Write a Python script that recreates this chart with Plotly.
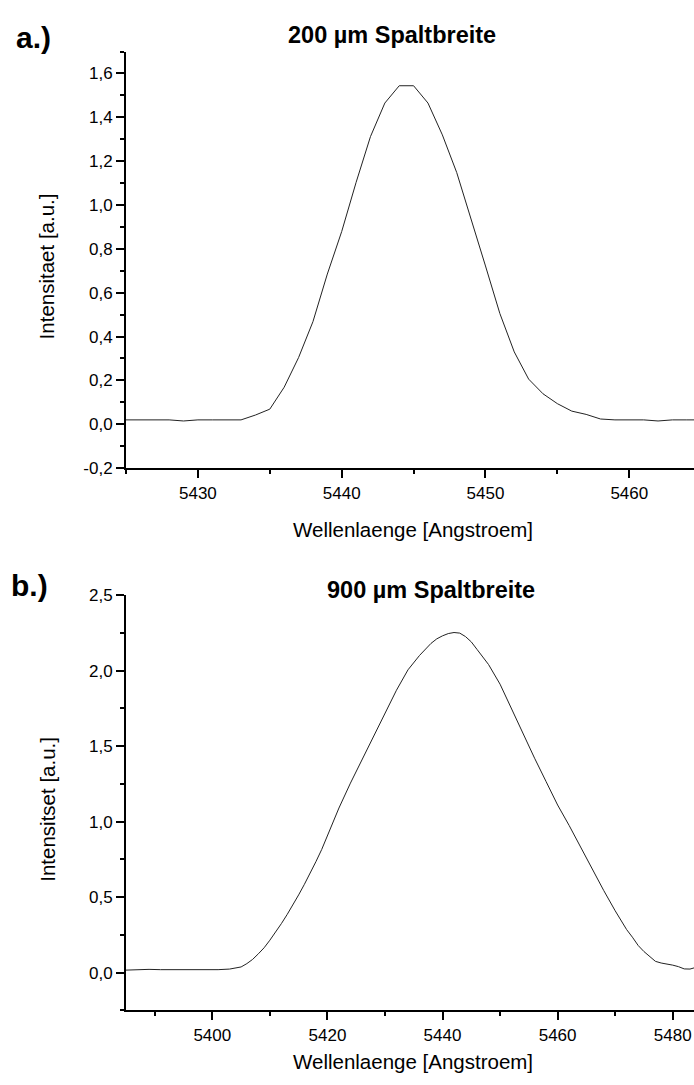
import plotly.graph_objects as go

# ---------------- data ----------------
# panel a: 200 um slit width
X_A = [5425, 5426, 5427, 5428, 5429, 5430, 5431, 5432, 5433, 5434, 5435, 5436, 5437,
       5438, 5439, 5440, 5441, 5442, 5443, 5444, 5445, 5446, 5447, 5448, 5449, 5450,
       5451, 5452, 5453, 5454, 5455, 5456, 5457, 5458, 5459, 5460, 5461, 5462, 5463,
       5464, 5465]
Y_A = [0.020, 0.020, 0.020, 0.020, 0.015, 0.020, 0.020, 0.020, 0.020, 0.042, 0.069,
       0.169, 0.304, 0.468, 0.685, 0.879, 1.103, 1.312, 1.465, 1.544, 1.544, 1.465,
       1.320, 1.148, 0.939, 0.722, 0.505, 0.330, 0.206, 0.139, 0.094, 0.060, 0.045,
       0.024, 0.020, 0.020, 0.020, 0.015, 0.020, 0.020, 0.020]

# panel b: 900 um slit width
X_B = [5385, 5387, 5389, 5391, 5393, 5395, 5397, 5399, 5401, 5403, 5405, 5406, 5407,
       5408, 5409, 5410, 5411, 5412, 5413, 5414, 5415, 5416, 5417, 5418, 5419, 5420,
       5422, 5424, 5426, 5428, 5430, 5432, 5434, 5436, 5438, 5439, 5440, 5441, 5442,
       5443, 5444, 5445, 5446, 5448, 5450, 5452, 5454, 5456, 5458, 5460, 5462, 5464,
       5466, 5468, 5470, 5472, 5473, 5474, 5475, 5476, 5477, 5478, 5479, 5480, 5481,
       5482, 5483, 5484]
Y_B = [0.017, 0.020, 0.022, 0.020, 0.019, 0.018, 0.020, 0.021, 0.020, 0.024, 0.038,
       0.060, 0.088, 0.125, 0.165, 0.215, 0.268, 0.325, 0.385, 0.448, 0.515, 0.585,
       0.655, 0.735, 0.815, 0.905, 1.090, 1.255, 1.410, 1.570, 1.725, 1.870, 2.005,
       2.100, 2.180, 2.210, 2.230, 2.245, 2.252, 2.248, 2.225, 2.190, 2.140, 2.040,
       1.910, 1.745, 1.580, 1.420, 1.265, 1.110, 0.975, 0.830, 0.680, 0.545, 0.410,
       0.285, 0.235, 0.180, 0.140, 0.105, 0.075, 0.064, 0.058, 0.050, 0.040, 0.025,
       0.024, 0.035]

# tick labels
XA_TICKS = [5430, 5440, 5450, 5460]
XA_LABELS = ["5430", "5440", "5450", "5460"]
YA_TICKS = [-0.2, 0.0, 0.2, 0.4, 0.6, 0.8, 1.0, 1.2, 1.4, 1.6]
YA_LABELS = ["-0,2", "0,0", "0,2", "0,4", "0,6", "0,8", "1,0", "1,2", "1,4", "1,6"]
XB_TICKS = [5400, 5420, 5440, 5460, 5480]
XB_LABELS = ["5400", "5420", "5440", "5460", "5480"]
YB_TICKS = [0.0, 0.5, 1.0, 1.5, 2.0, 2.5]
YB_LABELS = ["0,0", "0,5", "1,0", "1,5", "2,0", "2,5"]

TITLE_A = "200 µm Spaltbreite"
TITLE_B = "900 µm Spaltbreite"
XTITLE = "Wellenlaenge [Angstroem]"
YTITLE_A = "Intensitaet [a.u.]"
YTITLE_B = "Intensitset [a.u.]"

# ---------------- figure ----------------
W, H = 694, 1085
FONT = "Liberation Sans, Arial, sans-serif"

fig = go.Figure()
fig.add_trace(go.Scatter(x=X_A, y=Y_A, mode="lines", xaxis="x", yaxis="y",
                         line=dict(color="#222222", width=1), hoverinfo="skip"))
fig.add_trace(go.Scatter(x=X_B, y=Y_B, mode="lines", xaxis="x2", yaxis="y2",
                         line=dict(color="#222222", width=1), hoverinfo="skip"))


def px(v):
    return v / W


def py(v):
    return 1 - v / H


common = dict(showline=True, linecolor="black", linewidth=2, ticks="outside",
              ticklen=8, tickwidth=1.5, tickcolor="black", showgrid=False,
              zeroline=False, tickfont=dict(family=FONT, size=17, color="black"),
              tickmode="array", fixedrange=True)


def minor(dt, t0):
    return dict(ticks="outside", ticklen=4, tickwidth=1.5, tickcolor="black",
                dtick=dt, tick0=t0, showgrid=False)


x_dom = [px(126), 1.0]
fig.update_layout(
    width=W, height=H, margin=dict(l=0, r=0, t=0, b=0),
    paper_bgcolor="white", plot_bgcolor="white", showlegend=False,
    xaxis=dict(domain=x_dom, anchor="y", range=[5425, 5464.5],
               tickvals=XA_TICKS, ticktext=XA_LABELS, minor=minor(5, 5425), **common),
    yaxis=dict(domain=[py(467.3), py(43.3)], anchor="x", range=[-0.2, 1.7],
               tickvals=YA_TICKS, ticktext=YA_LABELS, minor=minor(0.1, 0), **common),
    xaxis2=dict(domain=x_dom, anchor="y2", range=[5385, 5483.7],
                tickvals=XB_TICKS, ticktext=XB_LABELS, minor=minor(10, 5390), **common),
    yaxis2=dict(domain=[py(1019.3), py(596.5)], anchor="x2", range=[-0.25, 2.5],
                tickvals=YB_TICKS, ticktext=YB_LABELS, minor=minor(0.25, 0), **common),
)


def ann(text, x, y, size, bold=False, angle=0, xanchor="center"):
    fig.add_annotation(text=f"<b>{text}</b>" if bold else text, x=px(x), y=py(y),
                       xref="paper", yref="paper", showarrow=False, textangle=angle,
                       xanchor=xanchor, yanchor="middle",
                       font=dict(family=FONT, size=size, color="black"))


ann("a.)", 14, 29, 30, bold=True, xanchor="left")
ann("b.)", 9, 587, 30, bold=True, xanchor="left")
ann(TITLE_A, 392, 26, 23.5, bold=True)
ann(TITLE_B, 431, 591, 23.5, bold=True)
ann(YTITLE_A, 46, 262, 20.5, angle=-90)
ann(YTITLE_B, 48, 815, 20.5, angle=-90)
ann(XTITLE, 413, 530, 20.5)
ann(XTITLE, 413, 1071, 20.5)

fig.write_html(
    "out.html",
    config={"displayModeBar": False},
    post_script="document.body.style.margin='0';document.body.style.overflow='hidden';",
)
